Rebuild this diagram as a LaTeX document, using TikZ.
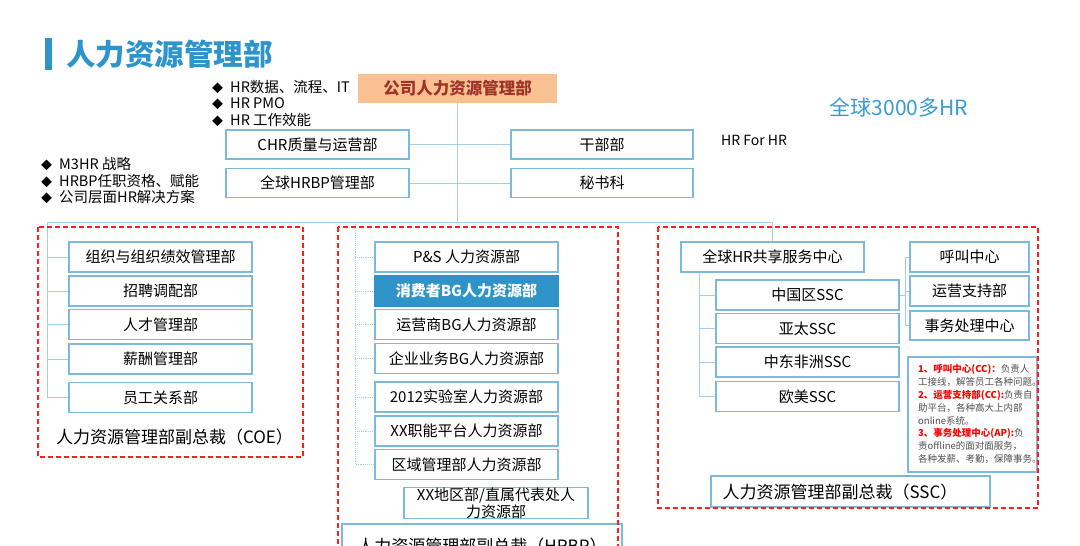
\documentclass[tikz,border=0pt]{standalone}
\usepackage{fontspec}
\setmainfont{Noto Sans CJK SC}
\usetikzlibrary{backgrounds}
\definecolor{boxblue}{HTML}{7DB8DD}
\definecolor{lineblue}{HTML}{A3CDE9}
\definecolor{titleblue}{HTML}{2E95CC}
\definecolor{hiblue}{HTML}{3A9AD2}
\definecolor{fillblue}{HTML}{2E94C8}
\definecolor{topfill}{HTML}{F9C192}
\definecolor{toptext}{HTML}{A0342A}
\definecolor{dashred}{HTML}{FF1E1E}
\definecolor{notegray}{HTML}{505050}
\definecolor{notered}{HTML}{FF0000}
\newcommand\fsz[2]{\fontsize{#1}{#2}\selectfont}
\newcommand\dmd{{\fsz{11}{11}◆}\hspace{7pt}}
\begin{document}
\begin{tikzpicture}[x=1pt,y=-1pt,
  box/.style={draw=boxblue,line width=1.1pt,fill=white,minimum width=183pt,minimum height=30pt,inner sep=0pt,font=\fsz{15}{17}},
  conn/.style={draw=lineblue,line width=1pt},
  dotconn/.style={draw=lineblue,line width=0.9pt,densely dotted},
  redbox/.style={draw=dashred,line width=1.3pt,dash pattern=on 5pt off 3pt},
  bulletline/.style={anchor=west,inner sep=0pt,font=\fsz{14.5}{16}},
  vplabel/.style={inner sep=0pt,font=\fsz{17}{20}},
  noteline/.style={anchor=west,inner sep=0pt,font=\fsz{9.5}{11},text=notegray}
]
\useasboundingbox (0,0) rectangle (1080,546);
\clip (0,0) rectangle (1080,546);

% title
\fill[titleblue] (45,38) rectangle (52,70);
\node[anchor=west,inner sep=0pt,text=titleblue,font=\bfseries\fsz{29.5}{32}] (title) at (66,54) {人力资源管理部};

% top box
\node[draw=none,fill=topfill,minimum width=199pt,minimum height=29pt,inner sep=0pt,text=toptext,font=\bfseries\fsz{16.5}{18}] (top) at (457.5,88.5) {公司人力资源管理部};

% bullets
\node[bulletline] (b1) at (212,87) {\dmd HR数据、流程、IT};
\node[bulletline] (b2) at (212,103.5) {\dmd HR PMO};
\node[bulletline] (b3) at (212,120) {\dmd HR 工作效能};
\node[bulletline] (c1) at (41,163.5) {\dmd M3HR 战略};
\node[bulletline] (c2) at (41,180.5) {\dmd HRBP任职资格、赋能};
\node[bulletline] (c3) at (41,197) {\dmd 公司层面HR解决方案};

\node[anchor=west,inner sep=0pt,font=\fsz{14}{16}] (hrfor) at (721,140) {HR For HR};
\node[inner sep=0pt,text=hiblue,font=\fsz{21}{24}] (glob) at (899,107) {全球3000多HR};

% coordinates for connectors
\coordinate (hub) at (457.5,222);
\coordinate (barL) at (47,222);
\coordinate (barR) at (772.5,222);
\coordinate (hrbpV) at (355,222);
\coordinate (sscV) at (699,0);
\coordinate (rV) at (905,0);

% second-level boxes
\node[box,minimum height=29pt] (chr) at (317.5,144.5) {CHR质量与运营部};
\node[box,minimum height=29pt] (ghrbp) at (317.5,183) {全球HRBP管理部};
\node[box,minimum width=182pt,minimum height=29pt] (gbb) at (602,144.5) {干部部};
\node[box,minimum width=182pt,minimum height=29pt] (msk) at (602,183) {秘书科};

% COE boxes
\node[box] (e1) at (160.5,257) {组织与组织绩效管理部};
\node[box] (e2) at (160.5,291) {招聘调配部};
\node[box] (e3) at (160.5,324.5) {人才管理部};
\node[box] (e4) at (160.5,359) {薪酬管理部};
\node[box] (e5) at (160.5,397.5) {员工关系部};
\node[vplabel] (coelab) at (174.5,437) {人力资源管理部副总裁（COE）};

% HRBP boxes
\node[box] (h1) at (466.5,257) {P\&S\ 人力资源部};
\node[box,fill=fillblue,draw=fillblue,text=white,font=\bfseries\fsz{15}{17}] (h2) at (466.5,291) {消费者BG人力资源部};
\node[box] (h3) at (466.5,324.5) {运营商BG人力资源部};
\node[box] (h4) at (466.5,358.5) {企业业务BG人力资源部};
\node[box] (h5) at (466.5,397) {2012实验室人力资源部};
\node[box] (h6) at (466.5,431) {XX职能平台人力资源部};
\node[box] (h7) at (466.5,464.5) {区域管理部人力资源部};
\node[box,minimum width=184pt,align=center] (xx) at (496,503) {XX地区部/直属代表处人\\力资源部};
\node[box,minimum width=280pt,minimum height=44pt,fill=none,font=\fsz{17}{20}] (hrbplab) at (482,546) {人力资源管理部副总裁（HRBP）};

% SSC boxes
\node[box] (ssc) at (772.5,257) {全球HR共享服务中心};
\node[box] (s1) at (807.5,295) {中国区SSC};
\node[box] (s2) at (807.5,328.5) {亚太SSC};
\node[box] (s3) at (807.5,362) {中东非洲SSC};
\node[box] (s4) at (807.5,396.5) {欧美SSC};
\node[box,minimum width=119pt] (r1) at (969.5,257) {呼叫中心};
\node[box,minimum width=119pt] (r2) at (969.5,291) {运营支持部};
\node[box,minimum width=119pt,minimum height=29pt] (r3) at (969.5,325.5) {事务处理中心};

% note
\node[box,minimum width=129pt,minimum height=115pt] (note) at (972.5,414.5) {};
\node[noteline] (n1) at (918,369) {\textcolor{notered}{\bfseries 1、呼叫中心(CC)：}负责人};
\node[noteline] (n2) at (918,382) {工接线，解答员工各种问题。};
\node[noteline] (n3) at (918,395) {\textcolor{notered}{\bfseries 2、运营支持部(CC):}负责自};
\node[noteline] (n4) at (918,408) {助平台，各种高大上内部};
\node[noteline] (n5) at (918,420.5) {online系统。};
\node[noteline] (n6) at (918,433) {\textcolor{notered}{\bfseries 3、事务处理中心(AP):}负};
\node[noteline] (n7) at (918,446) {责offline的面对面服务，};
\node[noteline] (n8) at (918,459) {各种发薪、考勤，保障事务。};

\node[box,minimum width=279pt,minimum height=31pt] (ssclab) at (850.5,491.5) {};
\node[vplabel] (ssctext) at (840,492) {人力资源管理部副总裁（SSC）};

% connectors (behind boxes)
\begin{scope}[on background layer]
  \draw[conn] (top.south) -- (hub);
  \draw[conn] (chr.east) -- (gbb.west);
  \draw[conn] (ghrbp.east) -- (msk.west);
  \draw[conn] (barL) -- (barR);
  % COE
  \draw[conn] (barL) |- (e5.west);
  \foreach \n in {e1,e2,e3,e4}{\draw[conn] (\n.west -| barL) -- (\n.west);}
  % HRBP
  \draw[dotconn] (hrbpV) |- (h7.west);
  \foreach \n in {h1,h2,h3,h4,h5,h6}{\draw[dotconn] (\n.west -| hrbpV) -- (\n.west);}
  % SSC
  \draw[conn] (barR) -- (ssc.north);
  \draw[conn] (ssc.south -| sscV) |- (s4.west);
  \foreach \n in {s1,s2,s3}{\draw[conn] (\n.west -| sscV) -- (\n.west);}
  \draw[conn] (s1.east) -- (s1.east -| rV);
  \draw[conn] (r1.west -| rV) -- (r3.west -| rV);
  \foreach \n in {r1,r2,r3}{\draw[conn] (\n.west -| rV) -- (\n.west);}
\end{scope}

% dashed groups
\draw[redbox] (38,227) rectangle (303,457);
\draw[redbox] (338,227) rectangle (618,580);
\draw[redbox] (658,227) rectangle (1038,508);
\end{tikzpicture}
\end{document}
